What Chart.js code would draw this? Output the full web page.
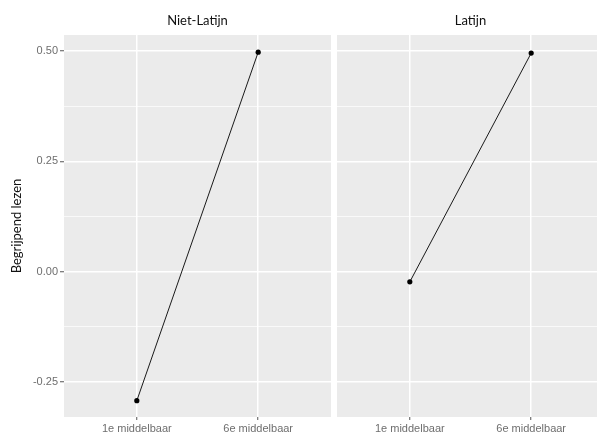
<!DOCTYPE html>
<html>
<head>
<meta charset="utf-8">
<script src="https://cdn.jsdelivr.net/npm/chart.js@4"></script>
<style>
  html, body { margin: 0; padding: 0; background: #fff; overflow: hidden; }
  #wrap { position: relative; width: 597px; height: 435px; overflow: hidden; }
  .panel { position: absolute; top: 0; height: 435px; }
  #p1 { left: 0; width: 331px; }
  #p2 { left: 337px; width: 267px; }
</style>
</head>
<body>
<div id="wrap">
  <div class="panel" id="p1"><canvas id="chart1"></canvas></div>
  <div class="panel" id="p2"><canvas id="chart2"></canvas></div>
</div>
<script>
// data
let categories = ['1e middelbaar', '6e middelbaar'];
let panelNames = ['Niet-Latijn', 'Latijn'];
let nietLatijnValues = [-0.292, 0.497];
let latijnValues = [-0.023, 0.495];
let yMajorTicks = [-0.25, 0, 0.25, 0.5];
let yMinorTicks = [-0.125, 0.125, 0.375];
let yLabel = 'Begrijpend lezen';

let Y_MIN = -0.329;
let Y_MAX = 0.536;

// grey panel background + facet title centered on the panel
const panelPlugin = {
  id: 'panelBg',
  beforeDraw(chart, args, opts) {
    const a = chart.chartArea;
    const ctx = chart.ctx;
    ctx.save();
    ctx.fillStyle = '#EBEBEB';
    ctx.fillRect(a.left, a.top, a.right - a.left, a.bottom - a.top);
    ctx.fillStyle = '#111111';
    ctx.font = '13px Lato, "Open Sans", sans-serif';
    ctx.textAlign = 'center';
    ctx.textBaseline = 'middle';
    ctx.fillText(opts.text, (a.left + a.right) / 2, 21);
    ctx.restore();
  }
};

function isMajor(v) {
  return yMajorTicks.some(t => Math.abs(t - v) < 1e-9);
}

function makeChart(canvasId, values, title, showY) {
  var ctx = document.getElementById(canvasId).getContext('2d');
  var points = values.map((v, i) => ({ x: i, y: v }));
  return new Chart(ctx, {
    type: 'line',
    data: {
      datasets: [{
        data: points,
        borderColor: '#1a1a1a',
        borderWidth: 1,
        pointRadius: 2.6,
        pointBackgroundColor: '#000',
        pointBorderColor: '#000',
        pointBorderWidth: 0,
        tension: 0,
      }]
    },
    plugins: [panelPlugin],
    options: {
      responsive: true,
      maintainAspectRatio: false,
      animation: false,
      layout: { autoPadding: false, padding: { top: 35, left: 0, right: 0, bottom: 0 } },
      plugins: {
        legend: { display: false },
        tooltip: { enabled: false },
        panelBg: { text: title },
      },
      scales: {
        x: {
          type: 'linear',
          min: -0.6,
          max: 1.6,
          afterBuildTicks: (axis) => {
            axis.ticks = categories.map((c, i) => ({ value: i }));
          },
          afterFit: (axis) => {
            axis.height = 18;
            axis.paddingLeft = 0;
            axis.paddingRight = 0;
          },
          border: { display: false },
          grid: {
            color: '#ffffff',
            lineWidth: 1.5,
            tickLength: 3,
            tickColor: '#555555',
            tickWidth: 1,
          },
          ticks: {
            padding: 2,
            color: '#6e6e6e',
            font: { family: '"Liberation Sans", Arial, sans-serif', size: 11 },
            maxRotation: 0,
            callback: (v) => categories[v],
          }
        },
        y: {
          type: 'linear',
          min: Y_MIN,
          max: Y_MAX,
          afterBuildTicks: (axis) => {
            axis.ticks = yMajorTicks.concat(yMinorTicks).sort((a, b) => a - b).map(v => ({ value: v }));
          },
          afterFit: (axis) => {
            axis.width = showY ? 64 : 0;
            axis.paddingTop = 0;
            axis.paddingBottom = 0;
          },
          border: { display: false },
          grid: {
            color: '#ffffff',
            lineWidth: (c) => isMajor(c.tick.value) ? 1.5 : 0.7,
            drawTicks: showY,
            tickLength: 4,
            tickColor: (c) => isMajor(c.tick.value) ? '#555555' : 'rgba(0,0,0,0)',
            tickWidth: 1,
          },
          title: {
            display: showY,
            text: yLabel,
            color: '#111111',
            font: { family: 'Lato, "Open Sans", sans-serif', size: 13 },
            padding: { top: 9, bottom: 0 },
          },
          ticks: {
            display: showY,
            padding: 2,
            color: '#6e6e6e',
            font: { family: '"Liberation Sans", Arial, sans-serif', size: 11 },
            callback: (v) => isMajor(v) ? v.toFixed(2) : '',
          }
        }
      }
    }
  });
}

makeChart('chart1', nietLatijnValues, panelNames[0], true);
makeChart('chart2', latijnValues, panelNames[1], false);
</script>
</body>
</html>
